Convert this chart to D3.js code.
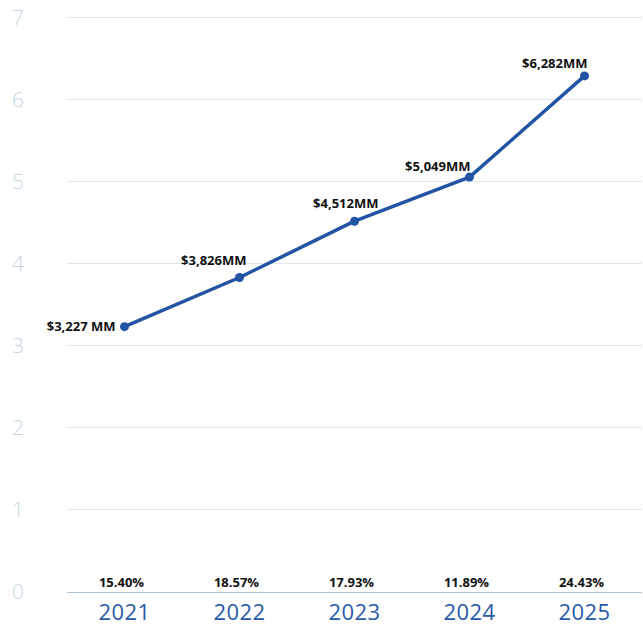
<!DOCTYPE html>
<html>
<head>
<meta charset="utf-8">
<script src="https://cdn.jsdelivr.net/npm/d3@7"></script>
<style>
  html, body { margin: 0; padding: 0; background: #ffffff; }
  svg { display: block; }
</style>
</head>
<body>
<svg id="chart" width="643" height="625"></svg>
<script>
// Revenue by year (US$ billions) with growth rate
const years = ["2021", "2022", "2023", "2024", "2025"];
const revenue = [3.227, 3.826, 4.512, 5.049, 6.282];
const revenueLabels = ["$3,227 MM", "$3,826MM", "$4,512MM", "$5,049MM", "$6,282MM"];
const growthLabels = ["15.40%", "18.57%", "17.93%", "11.89%", "24.43%"];
const yTicks = [0, 1, 2, 3, 4, 5, 6, 7];

const W = 643, H = 625;
const margin = { left: 67, right: 1, top: 17, bottom: 33 };
const svg = d3.select("#chart");

const x = d3.scaleBand()
  .domain(years)
  .range([margin.left, W - margin.right])
  .padding(0);

const y = d3.scaleLinear()
  .domain([0, 7])
  .range([H - margin.bottom - 0.5, margin.top]);

const cx = d => x(d) + x.bandwidth() / 2;

// horizontal gridlines
svg.append("g")
  .selectAll("line")
  .data(yTicks.filter(t => t > 0))
  .join("line")
  .attr("x1", margin.left)
  .attr("x2", W - margin.right)
  .attr("y1", d => Math.round(y(d)) + 0.5)
  .attr("y2", d => Math.round(y(d)) + 0.5)
  .attr("stroke", "#dfe7ec")
  .attr("stroke-width", 1);

// baseline
svg.append("line")
  .attr("x1", margin.left)
  .attr("x2", W - margin.right)
  .attr("y1", Math.round(y(0)) + 0.5)
  .attr("y2", Math.round(y(0)) + 0.5)
  .attr("stroke", "#a9c3d8")
  .attr("stroke-width", 1.2);

// y tick labels
svg.append("g")
  .selectAll("text")
  .data(yTicks)
  .join("text")
  .attr("x", 12)
  .attr("y", d => y(d))
  .attr("dy", "0.36em")
  .attr("font-family", "'Open Sans', 'Noto Sans', sans-serif")
  .attr("font-weight", 300)
  .attr("font-size", 21)
  .attr("fill", "#c6d7e2")
  .text(d => d);

// year labels
svg.append("g")
  .selectAll("text")
  .data(years)
  .join("text")
  .attr("x", d => cx(d))
  .attr("y", 620)
  .attr("text-anchor", "middle")
  .attr("font-family", "'Open Sans', 'Noto Sans', sans-serif")
  .attr("font-weight", 400)
  .attr("font-size", 22)
  .attr("letter-spacing", "0.4")
  .attr("fill", "#2a5aa8")
  .text(d => d);

// growth labels above baseline
svg.append("g")
  .selectAll("text")
  .data(growthLabels)
  .join("text")
  .attr("x", (d, i) => cx(years[i]) - 3)
  .attr("y", 587)
  .attr("text-anchor", "middle")
  .attr("font-family", "'Open Sans', 'Noto Sans', sans-serif")
  .attr("font-weight", 700)
  .attr("font-size", 13)
  .attr("fill", "#111111")
  .text(d => d);

// revenue line
const line = d3.line()
  .x((d, i) => cx(years[i]))
  .y(d => y(d));

svg.append("path")
  .datum(revenue)
  .attr("d", line)
  .attr("fill", "none")
  .attr("stroke", "#2254a3")
  .attr("stroke-width", 3.5)
  .attr("stroke-linejoin", "round");

svg.append("g")
  .selectAll("circle")
  .data(revenue)
  .join("circle")
  .attr("cx", (d, i) => cx(years[i]))
  .attr("cy", d => y(d))
  .attr("r", 4.5)
  .attr("fill", "#2254a3");

// value label placement relative to each point
const labelOffset = [
  { dx: -9, dy: 4 },
  { dx: 7, dy: -12 },
  { dx: 24, dy: -13 },
  { dx: 1, dy: -6 },
  { dx: 3, dy: -8 }
];

svg.append("g")
  .selectAll("text")
  .data(revenueLabels)
  .join("text")
  .attr("x", (d, i) => cx(years[i]) + labelOffset[i].dx)
  .attr("y", (d, i) => y(revenue[i]) + labelOffset[i].dy)
  .attr("text-anchor", "end")
  .attr("font-family", "'Open Sans', 'Noto Sans', sans-serif")
  .attr("font-weight", 700)
  .attr("font-size", 13)
  .attr("fill", "#111111")
  .text(d => d);
</script>
</body>
</html>
